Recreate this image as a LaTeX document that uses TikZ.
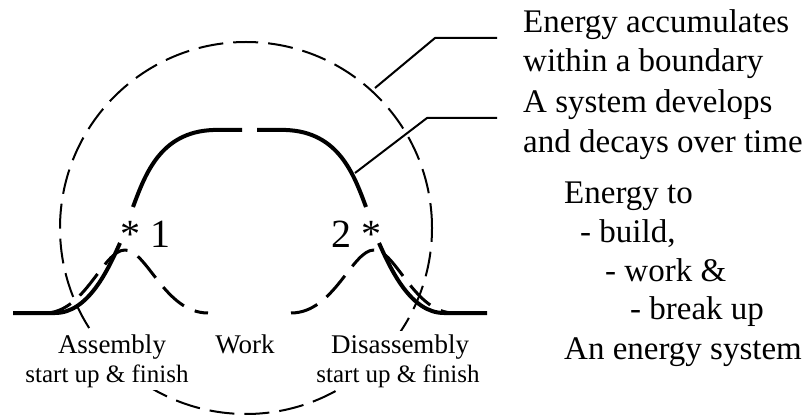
\documentclass[tikz,border=0pt]{standalone}
\usepackage{fontspec}
\setmainfont{Liberation Serif}
\begin{document}
\begin{tikzpicture}[x=1pt,y=-1pt, line join=round,
 bigtxt/.style={font=\fontsize{33}{39}\selectfont, anchor=base west, inner sep=0pt},
 lbl/.style={font=\fontsize{27}{30}\selectfont, anchor=base, fill=white, inner xsep=2pt, inner ysep=3pt},
 sublbl/.style={font=\fontsize{25}{28}\selectfont, anchor=base, fill=white, inner xsep=2pt, inner ysep=3pt},
 numtxt/.style={font=\fontsize{40}{44}\selectfont, anchor=base west, inner sep=0pt},
 boundary/.style={line width=2pt, dash pattern=on 25pt off 10pt},
 sysline/.style={line width=4pt},
 phase/.style={line width=3pt, dash pattern=on 28pt off 12pt},
 leader/.style={line width=2pt}]
\useasboundingbox (0,0) rectangle (810,419);

% boundary circle
\draw[boundary] (246,228) circle[radius=186pt];

% labels under the curves (white background hides the circle)
\node[lbl] (asm) at (112,353) {Assembly};
\node[sublbl] (asmsub) at (107,382) {start up \& finish};
\node[lbl] (work) at (245,353) {Work};
\node[lbl] (dis) at (400,353) {Disassembly};
\node[sublbl] (dissub) at (398,382) {start up \& finish};

% dashed phase bumps
\draw[phase] (45,313) .. controls (85,313) and (103,250) .. (125,250)
                     .. controls (147,250) and (165,313) .. (208,313);
\draw[phase] (291,313) .. controls (334,313) and (352,250) .. (374,250)
                      .. controls (396,250) and (414,313) .. (454,313);

% system curve (thick)
\draw[sysline] (13,313) -- (55,313) .. controls (88,313) and (108,270) .. (120,243);
\draw[sysline] (133,207) .. controls (145,175) and (160,132) .. (213,130) -- (242,130);
\draw[sysline] (257,130) -- (286,130) .. controls (339,132) and (354,175) .. (366,207);
\draw[sysline] (379,243) .. controls (391,270) and (411,313) .. (444,313) -- (487,313);

% markers
\node[numtxt] (m1) at (120,248) {* 1};
\node[numtxt] (m2) at (331,248) {2 *};

% right-hand texts
\node[bigtxt] (t1) at (523,33) {Energy accumulates};
\node[bigtxt] (t1b) at (523,72) {within a boundary};
\node[bigtxt] (t2) at (523,113) {A system develops};
\node[bigtxt] (t2b) at (523,153) {and decays over time};
\node[bigtxt] (e1) at (564,204) {Energy to};
\node[bigtxt] (e2) at (580,243) {- build,};
\node[bigtxt] (e3) at (605,281) {- work \&};
\node[bigtxt] (e4) at (630,319) {- break up};
\node[bigtxt] (e5) at (564,359) {An energy system};

% leader lines
\coordinate (c1) at (375,88);
\coordinate (k1) at (435,38);
\coordinate (end1) at (497,38);
\coordinate (c2) at (355,173);
\coordinate (k2) at (427,118);
\coordinate (end2) at (497,118);
\draw[leader] (c1) -- (k1) -- (end1);
\draw[leader] (c2) -- (k2) -- (end2);
\end{tikzpicture}
\end{document}
